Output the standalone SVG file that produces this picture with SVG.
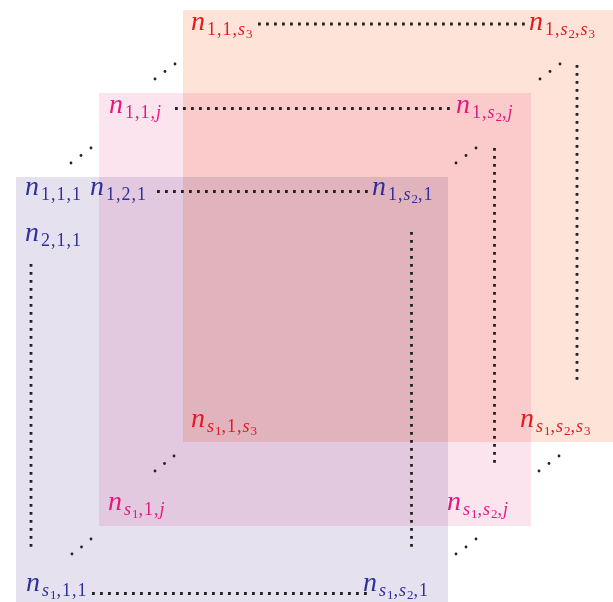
<svg xmlns="http://www.w3.org/2000/svg" width="613" height="602" viewBox="0 0 613 602">
<style>
.plane{mix-blend-mode:multiply}
.lbl{font-family:"Liberation Serif","DejaVu Serif",serif;font-size:28px;font-style:italic}
.sub{font-size:18px;font-style:normal;letter-spacing:1px}
.it{font-style:italic}
.ss{font-size:13px;font-style:normal}
.red{fill:#e8161e}
.pink{fill:#e2187f}
.blue{fill:#2e2e9c}
.dotl{stroke:#222;stroke-width:2.8;stroke-dasharray:2.8 5.2;fill:none}
.sd{fill:#222}
</style>
<rect width="613" height="602" fill="#fff"/>
<g id="planes">
<rect class="plane" x="183" y="10" width="430" height="432" fill="#fde3d8"/>
<rect class="plane" x="99" y="93" width="432" height="433" fill="#fce4ef"/>
<rect class="plane" x="16" y="177" width="432" height="425" fill="#e6e1ef"/>
</g>
<g id="connectors">
<line class="dotl" x1="258" y1="24" x2="530" y2="24"/>
<line class="dotl" x1="577" y1="65" x2="577" y2="384"/>
<line class="dotl" x1="175" y1="108.5" x2="455" y2="108.5"/>
<line class="dotl" x1="494.5" y1="148" x2="494.5" y2="467"/>
<line class="dotl" x1="157" y1="191.5" x2="372" y2="191.5"/>
<line class="dotl" x1="411.5" y1="232" x2="411.5" y2="550"/>
<line class="dotl" x1="31" y1="264" x2="31" y2="550"/>
<line class="dotl" x1="92" y1="593.5" x2="368" y2="593.5"/>
<g id="diag-dots">
<circle class="sd" cx="71" cy="163" r="1.4"/><circle class="sd" cx="81" cy="155.5" r="1.4"/><circle class="sd" cx="91" cy="148" r="1.4"/>
<circle class="sd" cx="155" cy="79" r="1.4"/><circle class="sd" cx="165" cy="71.5" r="1.4"/><circle class="sd" cx="175" cy="64" r="1.4"/>
<circle class="sd" cx="456" cy="163" r="1.4"/><circle class="sd" cx="466" cy="155.5" r="1.4"/><circle class="sd" cx="476" cy="148" r="1.4"/>
<circle class="sd" cx="540" cy="79" r="1.4"/><circle class="sd" cx="550" cy="71.5" r="1.4"/><circle class="sd" cx="560" cy="64" r="1.4"/>
<circle class="sd" cx="72" cy="554" r="1.4"/><circle class="sd" cx="81.5" cy="547" r="1.4"/><circle class="sd" cx="91" cy="539" r="1.4"/>
<circle class="sd" cx="155" cy="471" r="1.4"/><circle class="sd" cx="164.5" cy="463.5" r="1.4"/><circle class="sd" cx="174" cy="456" r="1.4"/>
<circle class="sd" cx="456" cy="554" r="1.4"/><circle class="sd" cx="466" cy="547" r="1.4"/><circle class="sd" cx="476" cy="539" r="1.4"/>
<circle class="sd" cx="539" cy="471" r="1.4"/><circle class="sd" cx="549" cy="463.5" r="1.4"/><circle class="sd" cx="559" cy="456" r="1.4"/>
</g>
</g>
<g id="n-1-1-s3"><text class="lbl red" x="191" y="30">n<tspan class="sub" dx="2" dy="5">1,1,</tspan><tspan class="sub it">s</tspan><tspan class="ss" dy="3">3</tspan></text></g>
<g id="n-1-s2-s3"><text class="lbl red" x="529" y="30">n<tspan class="sub" dx="2" dy="5">1,</tspan><tspan class="sub it">s</tspan><tspan class="ss" dy="3">2</tspan><tspan class="sub" dy="-3">,</tspan><tspan class="sub it">s</tspan><tspan class="ss" dy="3">3</tspan></text></g>
<g id="n-s1-1-s3"><text class="lbl red" x="191" y="427">n<tspan class="sub it" dx="2" dy="5">s</tspan><tspan class="ss" dy="3">1</tspan><tspan class="sub" dy="-3">,1,</tspan><tspan class="sub it">s</tspan><tspan class="ss" dy="3">3</tspan></text></g>
<g id="n-s1-s2-s3"><text class="lbl red" x="520" y="427">n<tspan class="sub it" dx="2" dy="5">s</tspan><tspan class="ss" dy="3">1</tspan><tspan class="sub" dy="-3">,</tspan><tspan class="sub it">s</tspan><tspan class="ss" dy="3">2</tspan><tspan class="sub" dy="-3">,</tspan><tspan class="sub it">s</tspan><tspan class="ss" dy="3">3</tspan></text></g>
<g id="n-1-1-j"><text class="lbl pink" x="109" y="113">n<tspan class="sub" dx="2" dy="5">1,1,</tspan><tspan class="sub it">j</tspan></text></g>
<g id="n-1-s2-j"><text class="lbl pink" x="456" y="113">n<tspan class="sub" dx="2" dy="5">1,</tspan><tspan class="sub it">s</tspan><tspan class="ss" dy="3">2</tspan><tspan class="sub" dy="-3">,</tspan><tspan class="sub it">j</tspan></text></g>
<g id="n-s1-1-j"><text class="lbl pink" x="108" y="510">n<tspan class="sub it" dx="2" dy="5">s</tspan><tspan class="ss" dy="3">1</tspan><tspan class="sub" dy="-3">,1,</tspan><tspan class="sub it">j</tspan></text></g>
<g id="n-s1-s2-j"><text class="lbl pink" x="447" y="510">n<tspan class="sub it" dx="2" dy="5">s</tspan><tspan class="ss" dy="3">1</tspan><tspan class="sub" dy="-3">,</tspan><tspan class="sub it">s</tspan><tspan class="ss" dy="3">2</tspan><tspan class="sub" dy="-3">,</tspan><tspan class="sub it">j</tspan></text></g>
<g id="n-1-1-1"><text class="lbl blue" x="25" y="195">n<tspan class="sub" dx="2" dy="5">1,1,1</tspan></text></g>
<g id="n-1-2-1"><text class="lbl blue" x="90" y="195">n<tspan class="sub" dx="2" dy="5">1,2,1</tspan></text></g>
<g id="n-1-s2-1"><text class="lbl blue" x="372" y="195">n<tspan class="sub" dx="2" dy="5">1,</tspan><tspan class="sub it">s</tspan><tspan class="ss" dy="3">2</tspan><tspan class="sub" dy="-3">,1</tspan></text></g>
<g id="n-2-1-1"><text class="lbl blue" x="25" y="241">n<tspan class="sub" dx="2" dy="5">2,1,1</tspan></text></g>
<g id="n-s1-1-1"><text class="lbl blue" x="26" y="591">n<tspan class="sub it" dx="2" dy="5">s</tspan><tspan class="ss" dy="3">1</tspan><tspan class="sub" dy="-3">,1,1</tspan></text></g>
<g id="n-s1-s2-1"><text class="lbl blue" x="363" y="591">n<tspan class="sub it" dx="2" dy="5">s</tspan><tspan class="ss" dy="3">1</tspan><tspan class="sub" dy="-3">,</tspan><tspan class="sub it">s</tspan><tspan class="ss" dy="3">2</tspan><tspan class="sub" dy="-3">,1</tspan></text></g>
</svg>
